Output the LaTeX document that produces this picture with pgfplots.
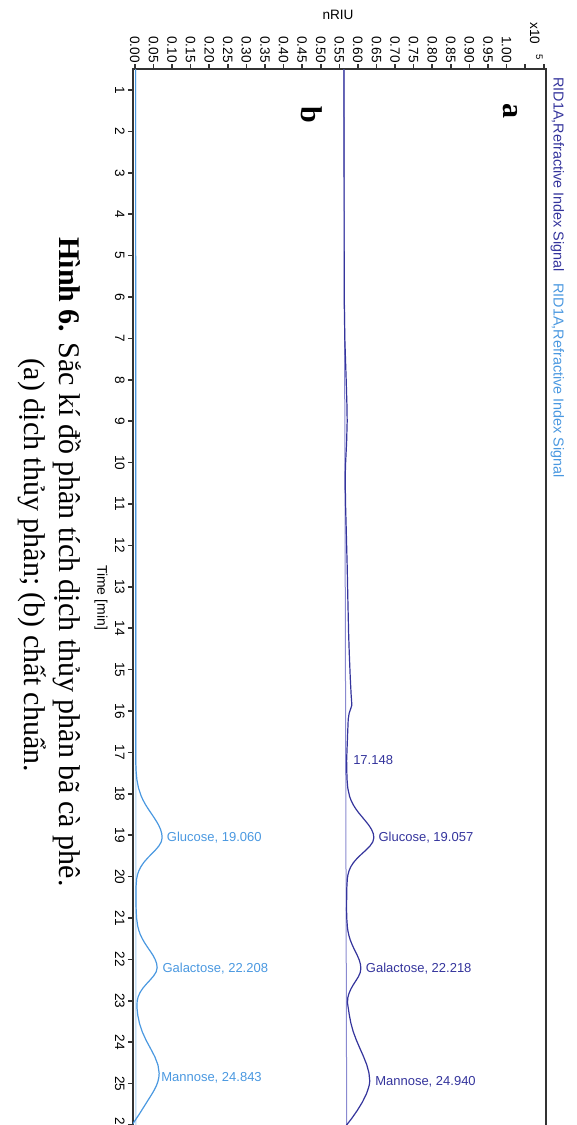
\documentclass[border=0pt]{standalone}
\usepackage{fontspec}
\setmainfont{Liberation Sans}
\newfontfamily\seriffont{Liberation Serif}
\usepackage{pgfplots}
\pgfplotsset{compat=1.18}
\definecolor{cA}{HTML}{34349C}
\definecolor{cAb}{HTML}{8A8AD0}
\definecolor{cB}{HTML}{4A98E0}
\definecolor{cBb}{HTML}{A8CFF2}
\definecolor{axc}{HTML}{333333}
\begin{document}
\begin{tikzpicture}
\begin{axis}[
  at={(0,0)}, anchor=north west,
  scale only axis, width=206.3pt, height=538.2pt,
  xmin=-0.005, xmax=1.105, ymin=0.5, ymax=26.5,
  y dir=reverse,
  xtick={0,0.05,0.1,0.15,0.2,0.25,0.3,0.35,0.4,0.45,0.5,0.55,0.6,0.65,0.7,0.75,0.8,0.85,0.9,0.95,1.0,1.05,1.1},
  xticklabels={0.00,0.05,0.10,0.15,0.20,0.25,0.30,0.35,0.40,0.45,0.50,0.55,0.60,0.65,0.70,0.75,0.80,0.85,0.90,0.95,1.00,,},
  ytick={1,2,3,4,5,6,7,8,9,10,11,12,13,14,15,16,17,18,19,20,21,22,23,24,25,26},
  yticklabels={1,2,3,4,5,6,7,8,9,10,11,12,13,14,15,16,17,18,19,20,21,22,23,24,25,26},
  xtick pos=right, xticklabel pos=right,
  ytick pos=left, yticklabel pos=left,
  tick align=outside, major tick length=2.5pt,
  /pgf/number format/assume math mode=true,
  xticklabel style={rotate=-90, anchor=east, inner sep=0.6pt, font=\fontsize{6.8}{8}\selectfont},
  yticklabel style={rotate=-90, anchor=north, inner sep=1.5pt, font=\fontsize{6.8}{8}\selectfont},
  axis line style={line width=1pt, draw=axc},
  major tick style={line width=0.8pt, draw=axc},
]
% series a: baseline
\addplot[cAb, line width=0.5pt] table[x=v, y=t] {
t v
0.5 0.5623
26.5 0.5700
};
% series b: baseline
\addplot[cBb, line width=0.5pt] table[x=v, y=t] {
t v
0.5 0.0020
26.5 0.0030
};
% series a
\addplot[cA, line width=0.6pt] table[x=v, y=t] {
t v
0.5 0.5625
2.0 0.5628
4.0 0.5630
6.0 0.5631
7.0 0.5648
8.0 0.5685
8.6 0.5705
9.0 0.5712
9.5 0.5697
10.0 0.5670
10.35 0.5658
11.0 0.5668
11.6 0.5686
12.5 0.5712
13.3 0.5730
14.1 0.5750
14.6 0.5768
15.2 0.5795
15.6 0.5818
15.86 0.5838
15.95 0.5805
16.05 0.5766
16.2 0.5740
16.6 0.5722
17.0 0.5705
17.2 0.5697
17.46 0.5702
17.66 0.5709
17.86 0.5728
18.06 0.5776
18.16 0.5817
18.26 0.5872
18.36 0.5941
18.46 0.6023
18.56 0.6115
18.66 0.6208
18.76 0.6296
18.86 0.6367
18.96 0.6414
19.06 0.6430
19.16 0.6402
19.26 0.6326
19.36 0.6216
19.46 0.6094
19.56 0.5978
19.66 0.5882
19.76 0.5810
19.86 0.5762
19.96 0.5732
20.06 0.5715
20.26 0.5703
20.6 0.5697
20.82 0.5696
21.02 0.5702
21.22 0.5718
21.32 0.5734
21.42 0.5758
21.52 0.5791
21.62 0.5834
21.72 0.5884
21.82 0.5939
21.92 0.5993
22.02 0.6039
22.12 0.6069
22.22 0.6080
22.32 0.6062
22.42 0.6012
22.52 0.5943
22.62 0.5871
22.72 0.5809
22.82 0.5761
22.92 0.5730
23.05 0.5720
23.14 0.5735
23.34 0.5769
23.54 0.5812
23.74 0.5873
23.94 0.5955
24.14 0.6050
24.34 0.6149
24.54 0.6237
24.74 0.6298
24.94 0.6320
25.04 0.6305
25.14 0.6272
25.24 0.6233
25.44 0.6125
25.64 0.5990
25.84 0.5835
26.0 0.5696
26.2 0.5520
26.5 0.5300
};
% series b
\addplot[cB, line width=0.6pt] table[x=v, y=t] {
t v
0.5 0.0020
17.26 0.0025
17.46 0.0034
17.66 0.0055
17.86 0.0098
18.06 0.0173
18.16 0.0225
18.26 0.0286
18.36 0.0356
18.46 0.0431
18.56 0.0506
18.66 0.0578
18.76 0.0642
18.86 0.0691
18.96 0.0723
19.06 0.0734
19.16 0.0711
19.26 0.0646
19.36 0.0551
19.46 0.0442
19.56 0.0334
19.66 0.0238
19.76 0.0163
19.86 0.0107
19.96 0.0070
20.06 0.0047
20.26 0.0030
20.6 0.0030
20.8 0.0035
21.0 0.0046
21.2 0.0078
21.3 0.0107
21.4 0.0147
21.5 0.0200
21.6 0.0264
21.7 0.0337
21.8 0.0414
21.9 0.0487
22.0 0.0546
22.1 0.0586
22.2 0.0600
22.3 0.0574
22.4 0.0504
22.5 0.0407
22.6 0.0304
22.7 0.0211
22.8 0.0139
22.9 0.0090
23.0 0.0063
23.15 0.0055
23.35 0.0079
23.55 0.0126
23.75 0.0200
23.95 0.0301
24.15 0.0421
24.35 0.0537
24.55 0.0622
24.75 0.0654
24.85 0.0645
24.95 0.0620
25.05 0.0580
25.15 0.0525
25.25 0.0460
25.35 0.0390
25.45 0.0320
25.55 0.0250
25.65 0.0180
25.75 0.0110
25.85 0.0035
25.96 -0.0046
26.2 -0.0200
26.5 -0.0400
};
\begin{scope}[font=\fontsize{6.5}{8}\selectfont]
\node[anchor=west, inner sep=0pt, text=cA] at (axis cs:0.5865,17.18) {17.148};
\node[anchor=west, inner sep=0pt, text=cA] at (axis cs:0.6546,19.07) {Glucose, 19.057};
\node[anchor=west, inner sep=0pt, text=cA] at (axis cs:0.6207,22.23) {Galactose, 22.218};
\node[anchor=west, inner sep=0pt, text=cA] at (axis cs:0.6457,24.96) {Mannose, 24.940};
\node[anchor=west, inner sep=0pt, text=cB] at (axis cs:0.0853,19.07) {Glucose, 19.060};
\node[anchor=west, inner sep=0pt, text=cB] at (axis cs:0.0734,22.23) {Galactose, 22.208};
\node[anchor=west, inner sep=0pt, text=cB] at (axis cs:0.0700,24.86) {Mannose, 24.843};
\end{scope}
\end{axis}
\begin{scope}[x=0.5pt, y=-0.5pt, shift={(-133,-69.3)}]
\node[anchor=center, inner sep=0pt, font=\fontsize{6.8}{8}\selectfont] at (338,15) {nRIU};
\node[rotate=-90, anchor=base, inner sep=0pt, font=\fontsize{7}{8}\selectfont] at (97.5,597.5) {Time [min]};
\node[rotate=-90, anchor=base west, inner sep=0pt, font=\fontsize{6.8}{8}\selectfont] at (530,22) {x10\hspace{5pt}\textsuperscript{5}};
\node[rotate=-90, anchor=base west, inner sep=0pt, text=cA, font=\fontsize{7.2}{8}\selectfont] at (553.5,77) {RID1A,Refractive Index Signal};
\node[rotate=-90, anchor=base west, inner sep=0pt, text=cB, font=\fontsize{7.2}{8}\selectfont] at (553.5,283) {RID1A,Refractive Index Signal};
\node[rotate=-90, anchor=base, inner sep=0pt, font=\seriffont\bfseries\fontsize{15}{18}\selectfont] at (503,111) {a};
\node[rotate=-90, anchor=base, inner sep=0pt, font=\seriffont\bfseries\fontsize{15}{18}\selectfont] at (302,115) {b};
\node[rotate=-90, anchor=base, inner sep=0pt, font=\seriffont\fontsize{15}{18}\selectfont] at (59.5,562) {\textbf{Hình 6.} Sắc kí đồ phân tích dịch thủy phân bã cà phê.};
\node[rotate=-90, anchor=base, inner sep=0pt, font=\seriffont\fontsize{15}{18}\selectfont] at (25,565) {(a) dịch thủy phân; (b) chất chuẩn.};
\pgfresetboundingbox
\path[use as bounding box] (0,0) rectangle (577,1125);
\end{scope}
\end{tikzpicture}
\end{document}
